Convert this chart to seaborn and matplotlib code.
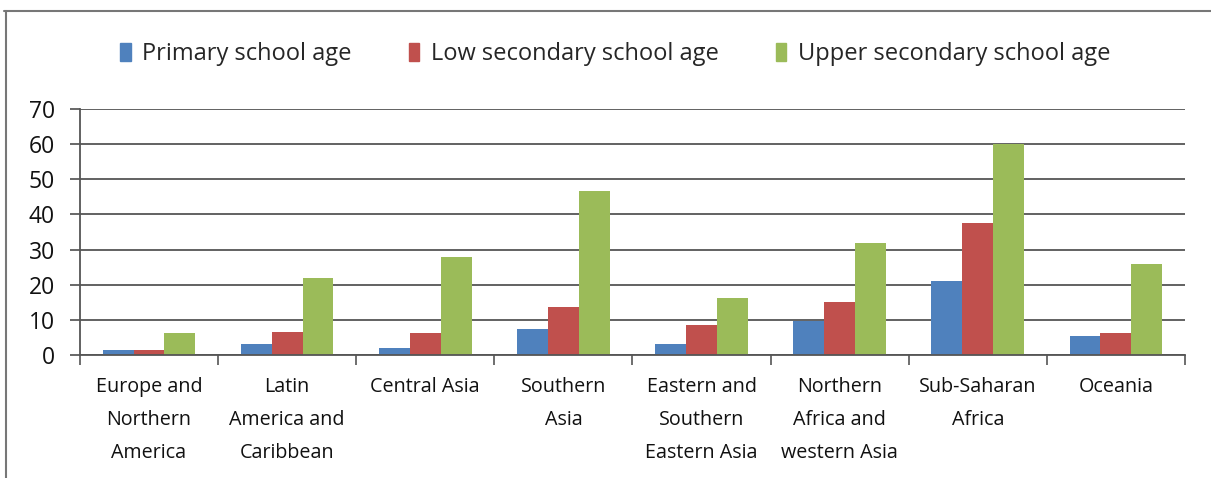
import numpy as np
import pandas as pd
import matplotlib
matplotlib.use("Agg")
import matplotlib.pyplot as plt
import seaborn as sns
from matplotlib.lines import Line2D

# data
regions = ["Europe and\nNorthern\nAmerica", "Latin\nAmerica and\nCaribbean", "Central Asia",
           "Southern\nAsia", "Eastern and\nSouthern\nEastern Asia", "Northern\nAfrica and\nwestern Asia",
           "Sub-Saharan\nAfrica", "Oceania"]
primary = [1.3, 3.1, 2.0, 7.4, 3.1, 9.7, 21.0, 5.4]
low_secondary = [1.3, 6.5, 6.3, 13.8, 8.5, 15.2, 37.6, 6.2]
upper_secondary = [6.4, 22.0, 28.0, 46.8, 16.3, 32.0, 60.0, 26.0]
series = ["Primary school age", "Low secondary school age", "Upper secondary school age"]
colors = ["#4F81BD", "#C0504D", "#9BBB59"]
yticks = [0, 10, 20, 30, 40, 50, 60, 70]

df = pd.DataFrame({
    "region": regions * 3,
    "age": [series[0]] * 8 + [series[1]] * 8 + [series[2]] * 8,
    "value": primary + low_secondary + upper_secondary,
})

sns.set_theme(style="white")
plt.rcParams['font.family'] = ['Open Sans', 'DejaVu Sans']

fig = plt.figure(figsize=(12.11, 4.78), dpi=100)
ax = fig.add_axes([0.066, 0.2573, 0.9125, 0.5147])

sns.barplot(data=df, x="region", y="value", hue="age", palette=colors,
            width=0.67, saturation=1, ax=ax, legend=False, edgecolor="none")

ax.set_ylim(0, 70)
ax.set_xlim(-0.5, 7.5)
ax.set_yticks(yticks)
ax.set_yticklabels([str(v) for v in yticks], fontsize=16.5, color="#111111")
ax.yaxis.grid(True, color="#555555", linewidth=1.3)
ax.set_axisbelow(True)
for s in ["top", "right"]:
    ax.spines[s].set_visible(False)
for s in ["left", "bottom"]:
    ax.spines[s].set_color("#555555")
    ax.spines[s].set_linewidth(1.3)
ax.tick_params(axis="y", left=True, length=7, color="#555555", pad=11)

# category boundary ticks and centered labels
ax.set_xticks(np.arange(-0.5, 8.0, 1.0))
ax.set_xticklabels([])
ax.tick_params(axis="x", which="major", bottom=True, length=7, color="#555555", width=1.2)
ax.set_xticks(np.arange(8), minor=True)
ax.set_xticklabels(regions, minor=True, fontsize=14.2, linespacing=1.85, color="#111111")
ax.tick_params(axis="x", which="minor", length=0, pad=16)
ax.set_xlabel("")
ax.set_ylabel("")

handles = [plt.Rectangle((0, 0), 1, 1, color=c) for c in colors]
fig.legend(handles, series, loc="center", bbox_to_anchor=(0.508, 0.887), ncol=3,
           frameon=False, fontsize=17, handlelength=0.45, handleheight=0.8,
           handletextpad=0.5, columnspacing=2.4)

# chart frame (top and left edges visible)
fig.add_artist(Line2D([0.003, 1.0], [0.978, 0.978], color="#777777", linewidth=1.5, transform=fig.transFigure))
fig.add_artist(Line2D([0.005, 0.005], [0.0, 0.978], color="#777777", linewidth=1.5, transform=fig.transFigure))

fig.savefig("out.png", dpi=100)
